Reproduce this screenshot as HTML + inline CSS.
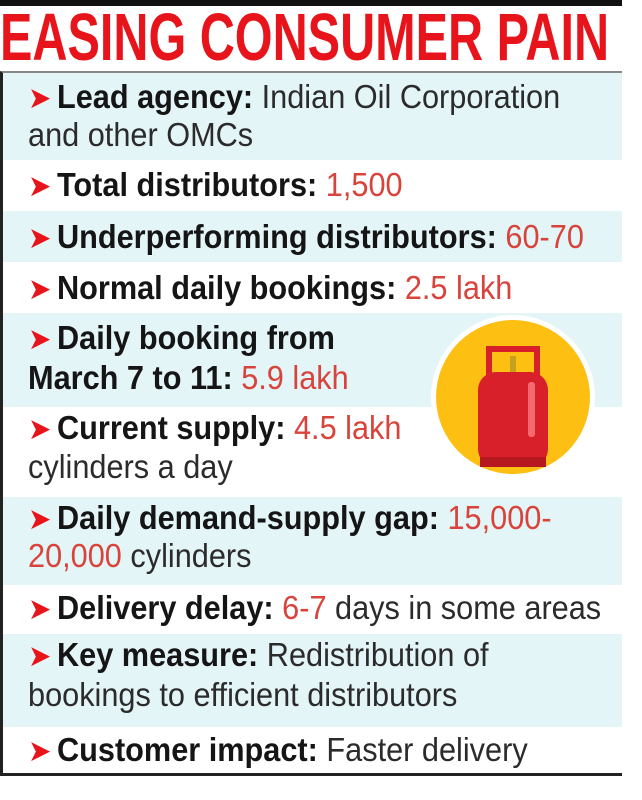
<!DOCTYPE html>
<html><head><meta charset="utf-8"><style>
body{margin:0;width:642px;height:800px;background:#fff;position:relative;overflow:hidden;font-family:"Liberation Sans",sans-serif}
.bar{position:absolute;left:0;top:0;width:622px;height:6px;background:#111}
.title{position:absolute;left:0;top:4px;font-weight:bold;font-size:67px;line-height:67px;color:#e8141c;white-space:nowrap;transform-origin:left top;transform:scaleX(0.725)}
.box{position:absolute;left:0;top:71px;width:622px;height:705px;border-left:3px solid #222;border-top:2px solid #888;border-bottom:3px solid #222;box-sizing:border-box}
.r{position:absolute;left:3px;width:619px}
.b{background:#e4f5f8}
.l{position:absolute;left:28px;font-size:33px;line-height:38px;color:#2b2b2b;white-space:nowrap;transform-origin:left center;transform:scaleX(0.93)}
.l b{color:#151515}
.v{color:#d8443c}
.a{color:#e8141c;font-size:30px;margin-right:6px}
</style></head><body>
<div class="bar"></div>
<div class="title">EASING CONSUMER PAIN</div>
<div class="r b" style="top:73px;height:87px"></div>
<div class="r b" style="top:211px;height:51px"></div>
<div class="r b" style="top:313px;height:94px"></div>
<div class="r b" style="top:497px;height:88px"></div>
<div class="r b" style="top:634px;height:93px"></div>
<div class="box"></div>
<svg style="position:absolute;left:428px;top:312px" width="170" height="170">
<circle cx="85" cy="85" r="82" fill="#fff"/>
<circle cx="85" cy="85" r="77" fill="#fdbf12"/>
<rect x="58" y="34" width="6" height="30" fill="#d8202a"/>
<rect x="106" y="34" width="6" height="30" fill="#d8202a"/>
<rect x="58" y="34" width="54" height="6" fill="#d8202a"/>
<rect x="82" y="44" width="6" height="16" fill="#c8a020"/>
<rect x="50" y="60" width="70" height="95" rx="18" fill="#d8202a"/>
<rect x="52" y="145" width="66" height="10" fill="#b51820"/>
<rect x="100" y="70" width="7" height="55" rx="3" fill="#f56a70"/>
</svg>
<div class="l" style="top:78px"><span class="a">➤</span><b>Lead agency:</b> Indian Oil Corporation</div>
<div class="l" style="top:116px">and other OMCs</div>
<div class="l" style="top:166px"><span class="a">➤</span><b>Total distributors:</b> <span class="v">1,500</span></div>
<div class="l" style="top:218px"><span class="a">➤</span><b>Underperforming distributors:</b> <span class="v">60-70</span></div>
<div class="l" style="top:269px"><span class="a">➤</span><b>Normal daily bookings:</b> <span class="v">2.5 lakh</span></div>
<div class="l" style="top:319px"><span class="a">➤</span><b>Daily booking from</b></div>
<div class="l" style="top:359px"><b>March 7 to 11:</b> <span class="v">5.9 lakh</span></div>
<div class="l" style="top:409px"><span class="a">➤</span><b>Current supply:</b> <span class="v">4.5 lakh</span></div>
<div class="l" style="top:448px">cylinders a day</div>
<div class="l" style="top:499px"><span class="a">➤</span><b>Daily demand-supply gap:</b> <span class="v">15,000-</span></div>
<div class="l" style="top:537px"><span class="v">20,000</span> cylinders</div>
<div class="l" style="top:589px"><span class="a">➤</span><b>Delivery delay:</b> <span class="v">6-7</span> days in some areas</div>
<div class="l" style="top:636px"><span class="a">➤</span><b>Key measure:</b> Redistribution of</div>
<div class="l" style="top:676px">bookings to efficient distributors</div>
<div class="l" style="top:731px"><span class="a">➤</span><b>Customer impact:</b> Faster delivery</div>
</body></html>
